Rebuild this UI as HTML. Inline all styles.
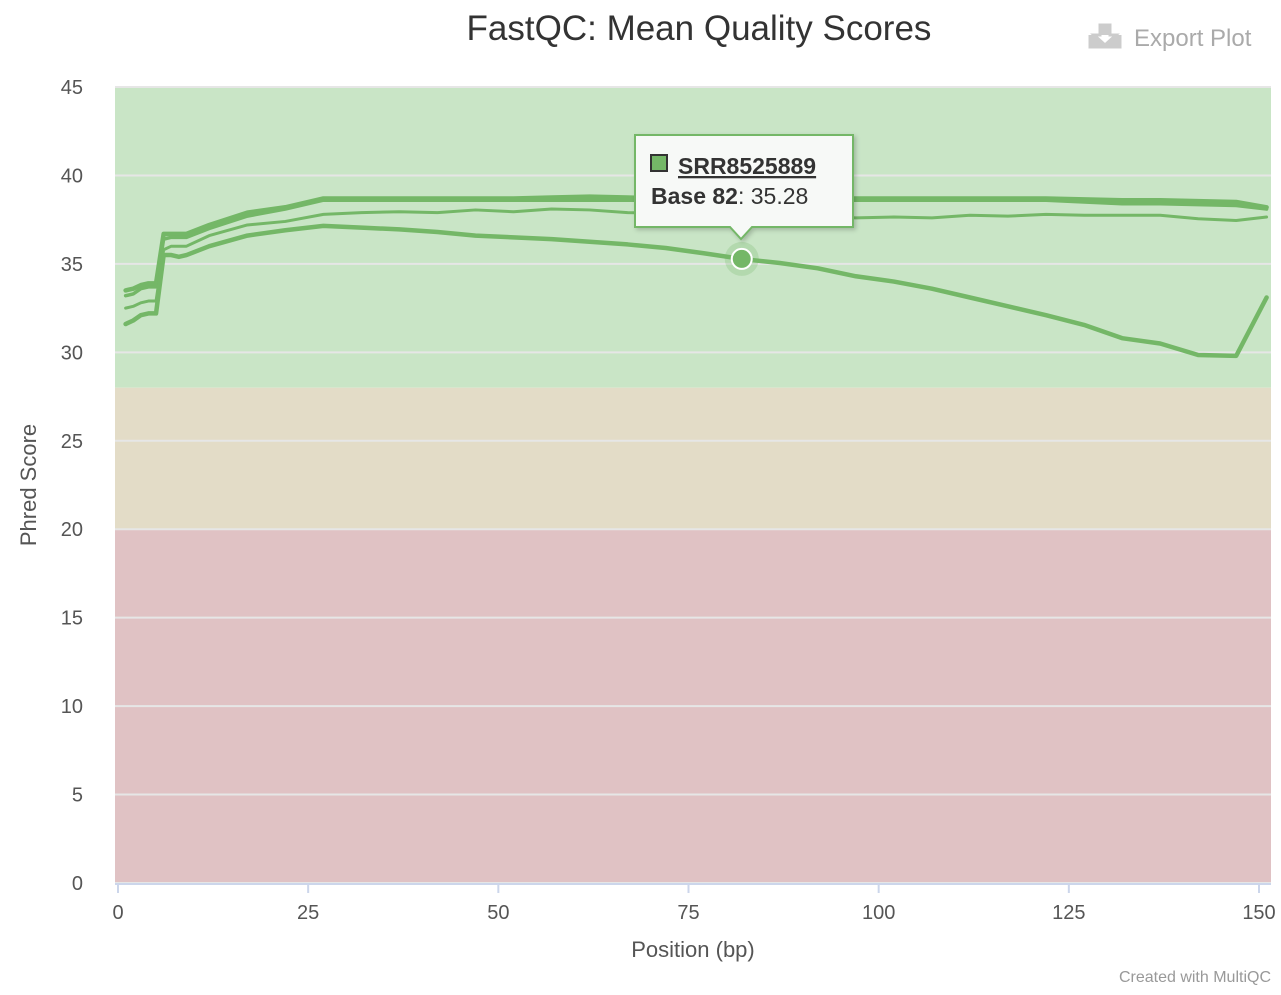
<!DOCTYPE html>
<html><head><meta charset="utf-8"><style>
body{margin:0;background:#fff;font-family:"Liberation Sans","DejaVu Sans",sans-serif;}
</style></head><body>
<svg width="1281" height="990" id="chart" font-family="Liberation Sans, DejaVu Sans, sans-serif">
<text x="699" y="40" text-anchor="middle" font-size="35" fill="#333">FastQC: Mean Quality Scores</text>
<g>
<path d="M1090 35 v12 h30 v-12 M1100 25 h10 v10 h6 l-11 10 l-11 -10 h6 z" fill="#ccc" stroke="#ccc" stroke-width="3"/>
<text x="1134" y="46" font-size="24" fill="#aaa">Export Plot</text>
</g>
<g id="bands"></g>
<g id="grid"></g>
<g id="axes"></g>
<g id="series"></g>
<text x="36" y="485" font-size="22" fill="#555" text-anchor="middle" transform="rotate(-90 36 485)">Phred Score</text>
<text x="693" y="957" font-size="22" fill="#555" text-anchor="middle">Position (bp)</text>
<text x="1271" y="982" font-size="16" fill="#999" text-anchor="end">Created with MultiQC</text>
<g id="tip"></g>
</svg>
<script>
const xs=[1,2,3,4,5,6,7,8,9,12,17,22,27,32,37,42,47,52,57,62,67,72,77,82,87,92,97,102,107,112,117,122,127,132,137,142,147,151];
const s1=[33.5,33.6,33.8,33.9,33.9,36.7,36.7,36.7,36.7,37.2,37.9,38.2,38.7,38.7,38.7,38.7,38.7,38.7,38.75,38.8,38.75,38.7,38.7,38.7,38.7,38.7,38.7,38.7,38.7,38.7,38.7,38.7,38.65,38.6,38.6,38.55,38.5,38.2];
const s2=[33.2,33.3,33.6,33.7,33.7,36.4,36.5,36.5,36.5,37.0,37.7,38.1,38.6,38.6,38.6,38.6,38.6,38.6,38.6,38.6,38.6,38.6,38.6,38.6,38.6,38.6,38.6,38.6,38.6,38.6,38.6,38.6,38.5,38.4,38.4,38.35,38.3,38.1];
const s3=[32.5,32.6,32.8,32.9,32.9,35.8,36.0,36.0,36.0,36.6,37.2,37.4,37.8,37.9,37.95,37.9,38.05,37.95,38.1,38.05,37.9,37.85,37.8,37.7,37.75,37.7,37.6,37.65,37.6,37.75,37.7,37.8,37.75,37.75,37.75,37.55,37.45,37.65];
const s4=[31.6,31.8,32.1,32.2,32.2,35.5,35.5,35.4,35.5,36.0,36.6,36.9,37.15,37.05,36.95,36.8,36.6,36.5,36.4,36.25,36.1,35.9,35.6,35.28,35.05,34.75,34.3,34.0,33.6,33.1,32.6,32.1,31.55,30.8,30.5,29.85,29.8,33.1];
const series=[[s1,4.5],[s2,3.5],[s3,3],[s4,4.5]];
const yTicks=[0,5,10,15,20,25,30,35,40,45];
const xTicks=[0,25,50,75,100,125,150];
const bandsData=[[28,45,"#c9e5c6"],[20,28,"#e3dcc7"],[0,20,"#e0c2c4"]];
const NS="http://www.w3.org/2000/svg";
const L=115,R=1271,T=87,B=883;
const Y=v=>B-v*(B-T)/45;
const X=v=>118+v*(1259-118)/150;
function mk(tag,attrs,parent){const e=document.createElementNS(NS,tag);for(const k in attrs)e.setAttribute(k,attrs[k]);document.getElementById(parent).appendChild(e);return e;}
bandsData.forEach(b=>{const r=mk('rect',{x:L,y:Y(b[1]),width:R-L,height:Y(b[0])-Y(b[1]),fill:b[2]},'bands');

});
yTicks.forEach(t=>{const l=mk('line',{x1:L,x2:R,y1:Y(t),y2:Y(t),stroke:"#e6e6e6","stroke-width":2},'grid');


const tx=mk('text',{x:83,y:Y(t)+7,"text-anchor":"end","font-size":20,fill:"#555"},'axes');tx.textContent=t;

});
mk('line',{x1:L,x2:R,y1:B+1,y2:B+1,stroke:"#ccd6eb","stroke-width":2},'axes');
xTicks.forEach(t=>{mk('line',{x1:X(t),x2:X(t),y1:B,y2:B+10,stroke:"#ccd6eb","stroke-width":2},'axes');
const tx=mk('text',{x:X(t),y:919,"text-anchor":"middle","font-size":20,fill:"#555"},'axes');tx.textContent=t;

});
series.forEach((s,i)=>{const p=mk('polyline',{points:xs.map((x,j)=>X(x)+","+Y(s[0][j])).join(" "),fill:"none",stroke:"#74b767","stroke-width":s[1],"stroke-linejoin":"round","stroke-linecap":"round"},'series');

});
const hi=xs.indexOf(82);
const hx=X(82),hy=Y(s4[hi]);
mk('circle',{cx:hx,cy:hy,r:17,fill:"#74b767",opacity:0.25},'tip');
const pt=mk('circle',{cx:hx,cy:hy,r:10,fill:"#74b767",stroke:"#fff","stroke-width":2},'tip');


const tg=mk('g',{},'tip');


tg.innerHTML='<path d="M635 135 h218 v92 h-101 l-11 12 l-11 -12 h-95 z" fill="#f7f9f7" stroke="#74b767" stroke-width="2" filter="drop-shadow(2px 2px 2px rgba(0,0,0,.2))"/><rect x="651" y="155" width="16" height="16" fill="#74b767" stroke="#333" stroke-width="2"/><text x="678" y="174" font-size="23" font-weight="bold" fill="#333" text-decoration="underline">SRR8525889</text><text x="651" y="204" font-size="23" fill="#333"><tspan font-weight="bold">Base 82</tspan>: '+s4[hi].toFixed(2)+'</text>';
</script>
</body></html>
